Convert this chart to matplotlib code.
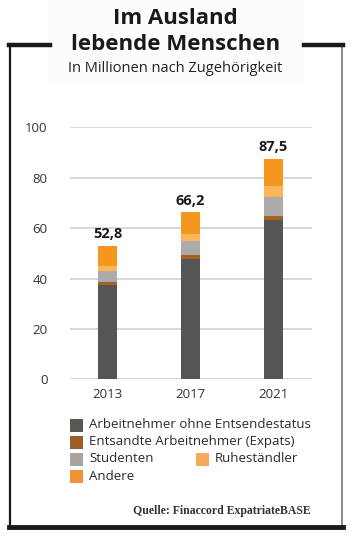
import numpy as np
import matplotlib.pyplot as plt
from matplotlib.patches import Rectangle

plt.rcParams['font.family'] = ['Open Sans', 'DejaVu Sans']

#Input data (Mio.)
years = ['2013', '2017', '2021']
totals = [52.8, 66.2, 87.5]
total_labels = ['52,8', '66,2', '87,5']
arbeitnehmer = [37.6, 47.8, 63.4]
expats = [0.9, 1.7, 1.5]
studenten = [4.6, 5.5, 7.5]
ruhestaendler = [2.0, 2.7, 4.2]
andere = [7.7, 8.5, 10.9]

series = [arbeitnehmer, expats, studenten, ruhestaendler, andere]
names = ['Arbeitnehmer ohne Entsendestatus', 'Entsandte Arbeitnehmer (Expats)',
         'Studenten', 'Ruheständler', 'Andere']
bar_colors = ['#555557', '#a3631c', '#ababab', '#fdb55a', '#f5961f']
leg_colors = ['#5a5755', '#9b5e2a', '#a8a4a0', '#f5a95a', '#f39233']

W, H = 351, 536
fig = plt.figure(figsize=(W/100, H/100), dpi=100)
fig.patch.set_facecolor('white')

#frame around the graphic
def fx(px): return px/W
def fy(py): return 1 - py/H
fig.add_artist(plt.Line2D([fx(10), fx(10)], [fy(45), fy(527)], color='#1a1a1a', lw=1.6))
fig.add_artist(plt.Line2D([fx(342), fx(342)], [fy(45), fy(527)], color='#777777', lw=1.2))
fig.add_artist(plt.Line2D([fx(9), fx(343)], [fy(527), fy(527)], color='#1a1a1a', lw=3.5))
fig.add_artist(plt.Line2D([fx(9), fx(50)], [fy(45), fy(45)], color='#1a1a1a', lw=3.2))
fig.add_artist(plt.Line2D([fx(304), fx(343)], [fy(45), fy(45)], color='#1a1a1a', lw=3.2))
fig.add_artist(Rectangle((fx(48), fy(84)), fx(256), 84/H, facecolor='#fcfcfc',
                         edgecolor='none', zorder=0))

#title
fig.text(0.5, fy(18), 'Im Ausland', ha='center', va='center', fontsize=16,
         fontweight='bold', color='#1a1a1a')
fig.text(0.5, fy(44), 'lebende Menschen', ha='center', va='center', fontsize=16,
         fontweight='bold', color='#1a1a1a')
fig.text(0.5, fy(68), 'In Millionen nach Zugehörigkeit', ha='center', va='center',
         fontsize=10.5, color='#222222')

#chart
ax = fig.add_axes([fx(70), fy(379.3), fx(312-70), (379.3-127.3)/H])
x = np.arange(len(years))
bottom = np.zeros(len(years))
for vals, col in zip(series, bar_colors):
    ax.bar(x, vals, bottom=bottom, width=0.23, color=col, zorder=3)
    bottom += np.array(vals)

for xi, t, lab in zip(x, totals, total_labels):
    ax.annotate(lab, (xi, t), textcoords='offset points', xytext=(0, 3.5),
                ha='center', va='bottom', fontsize=10.5, fontweight='bold', color='#1a1a1a')

ax.set_xlim(-0.454, 2.464)
ax.set_ylim(0, 100)
ax.set_yticks([0, 20, 40, 60, 80, 100])
ax.set_xticks(x)
ax.set_xticklabels(years)
ax.grid(axis='y', color='#d4d4d4', lw=1.3, zorder=0)
ax.set_axisbelow(True)
for s in ax.spines.values():
    s.set_visible(False)
ax.tick_params(length=0, labelsize=9.5, labelcolor='#333333')
ax.tick_params(axis='y', pad=16)
ax.tick_params(axis='x', pad=6)
for lbl in ax.get_yticklabels():
    lbl.set_clip_on(False)

#legend
leg_pos = [(70, 425), (70, 442), (70, 459), (196, 459), (70, 476)]
for (px, py), name, col in zip(leg_pos, names, leg_colors):
    fig.add_artist(Rectangle((fx(px), fy(py + 6.5)), 13/W, 13/H, facecolor=col,
                             edgecolor='none'))
    fig.text(fx(px + 19), fy(py), name, ha='left', va='center', fontsize=9.5,
             color='#2a2a2a')

fig.text(fx(311), fy(511), 'Quelle: Finaccord ExpatriateBASE', ha='right', va='center',
         fontsize=8.5, family='Liberation Serif', fontweight='bold', color='#333333')

plt.savefig('out.png', dpi=100)
